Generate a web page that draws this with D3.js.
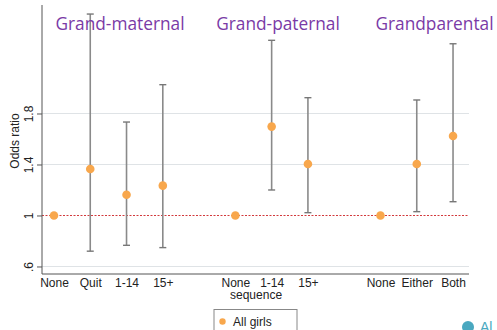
<!DOCTYPE html>
<html>
<head>
<meta charset="utf-8">
<script src="https://cdn.jsdelivr.net/npm/d3@7"></script>
<style>
  body { margin: 0; background: #fff; }
  svg { display: block; }
</style>
</head>
<body>
<div id="chart"></div>
<script>
// categories, position on the x axis (gaps between groups)
var labels = ["None", "Quit", "1-14", "15+", "None", "1-14", "15+", "None", "Either", "Both"];
var positions = [0, 1, 2, 3, 5, 6, 7, 9, 10, 11];
// odds ratios and confidence limits
var odds = [1, 1.365, 1.163, 1.234, 1, 1.697, 1.404, 1, 1.404, 1.624];
var lower = [null, 0.72, 0.766, 0.748, null, 1.2, 1.022, null, 1.03, 1.108];
var upper = [null, 2.58, 1.733, 2.026, null, 2.374, 1.924, null, 1.906, 2.347];
var groupTitles = ["Grand-maternal", "Grand-paternal", "Grandparental"];
var yTicks = [0.6, 1, 1.4, 1.8];

var width = 497, height = 330;
var font = "Liberation Sans, Arial, sans-serif";
var svg = d3.select("#chart").append("svg")
	.attr("width", width)
	.attr("height", height);

var xScale = d3.scaleLinear()
	.domain([-0.33, 11.44])
	.range([42, 469]);

var yScale = d3.scaleLinear()
	.domain([0.541, 2.651])
	.range([274, 5]);

// gridlines
svg.append("g")
	.selectAll("line")
	.data(yTicks.filter(d => d != 1))
	.enter()
	.append("line")
	.attr("x1", 42)
	.attr("x2", 469)
	.attr("y1", d => yScale(d))
	.attr("y2", d => yScale(d))
	.attr("stroke", "#dfe3e6")
	.attr("stroke-width", 1.2);

// reference line at 1
svg.append("line")
	.attr("x1", 42)
	.attr("x2", 469)
	.attr("y1", Math.round(yScale(1)) + 0.5)
	.attr("y2", Math.round(yScale(1)) + 0.5)
	.attr("stroke", "#d2393c")
	.attr("stroke-width", 1.2)
	.attr("stroke-dasharray", "2,1.5");

// y axis
var yAxis = d3.axisLeft(yScale)
	.tickValues(yTicks)
	.tickSize(5)
	.tickFormat(d => d == 1 ? "1" : d3.format(".1f")(d).replace(/^0/, ""));

var yg = svg.append("g")
	.attr("transform", "translate(42,0)")
	.call(yAxis);
yg.select(".domain").attr("d", "M-0," + yScale.range()[0] + "V" + yScale.range()[1]).attr("stroke", "#555");
yg.selectAll(".tick line").attr("stroke", "#555");
yg.selectAll(".tick text")
	.attr("transform", "rotate(-90)")
	.attr("x", 0)
	.attr("y", -9.5)
	.attr("dy", 0)
	.attr("text-anchor", "middle")
	.attr("font-family", font)
	.attr("font-size", 12)
	.attr("fill", "#222");

svg.append("text")
	.attr("transform", "translate(19,141) rotate(-90)")
	.attr("text-anchor", "middle")
	.attr("font-family", font)
	.attr("font-size", 12)
	.attr("fill", "#222")
	.text("Odds ratio");

// x axis
var xAxis = d3.axisBottom(xScale)
	.tickValues(positions)
	.tickSize(0)
	.tickFormat((d, i) => labels[i]);

var xg = svg.append("g")
	.attr("transform", "translate(0,274)")
	.call(xAxis);
xg.select(".domain").attr("d", "M42,0H469").attr("stroke", "#555");
xg.selectAll(".tick text")
	.attr("y", 4)
	.attr("font-family", font)
	.attr("font-size", 12)
	.attr("fill", "#222");

svg.append("text")
	.attr("x", xScale(5.57))
	.attr("y", 299)
	.attr("text-anchor", "middle")
	.attr("font-family", font)
	.attr("font-size", 12)
	.attr("fill", "#222")
	.text("sequence");

// confidence intervals
var ciData = positions.map((p, i) => ({pos: p, lo: lower[i], hi: upper[i], or: odds[i]}))
	.filter(d => d.lo != null);

var ci = svg.append("g").selectAll("g")
	.data(ciData)
	.enter()
	.append("g");

ci.append("line")
	.attr("x1", d => xScale(d.pos))
	.attr("x2", d => xScale(d.pos))
	.attr("y1", d => yScale(d.lo))
	.attr("y2", d => yScale(d.hi))
	.attr("stroke", "#8a8a8a")
	.attr("stroke-width", 1.6);

["lo", "hi"].forEach(function(k){
	ci.append("line")
		.attr("x1", d => xScale(d.pos) - 3.5)
		.attr("x2", d => xScale(d.pos) + 3.5)
		.attr("y1", d => yScale(d[k]))
		.attr("y2", d => yScale(d[k]))
		.attr("stroke", "#777")
		.attr("stroke-width", 1.4);
});

// points
svg.append("g").selectAll("circle")
	.data(positions.map((p, i) => ({pos: p, or: odds[i]})))
	.enter()
	.append("circle")
	.attr("cx", d => xScale(d.pos))
	.attr("cy", d => yScale(d.or))
	.attr("r", 4.3)
	.attr("fill", "#f8a74c");

// group titles
var titleX = [120, 278, 434.5];
svg.selectAll(".heading")
	.data(groupTitles)
	.enter()
	.append("text")
	.classed("heading", true)
	.attr("x", (d, i) => titleX[i])
	.attr("y", 30)
	.attr("text-anchor", "middle")
	.attr("font-family", "Open Sans, sans-serif")
	.attr("font-size", 17.3)
	.attr("fill", "#7a3aa6")
	.text(d => d);

// legend
svg.append("rect")
	.attr("x", 214)
	.attr("y", 309.5)
	.attr("width", 83)
	.attr("height", 30)
	.attr("fill", "#fff")
	.attr("stroke", "#888")
	.attr("stroke-width", 1);
svg.append("circle")
	.attr("cx", 222.5)
	.attr("cy", 321.5)
	.attr("r", 3.2)
	.attr("fill", "#f8a74c");
svg.append("text")
	.attr("x", 233)
	.attr("y", 326)
	.attr("font-family", font)
	.attr("font-size", 12)
	.attr("fill", "#222")
	.text("All girls");

// corner logo (cut off in the original too)
svg.append("circle")
	.attr("cx", 468)
	.attr("cy", 327)
	.attr("r", 6)
	.attr("fill", "#4aa8c0");
svg.append("text")
	.attr("x", 480)
	.attr("y", 332)
	.attr("font-family", font)
	.attr("font-size", 14)
	.attr("fill", "#4aa8c0")
	.text("Al");
</script>
</body>
</html>
